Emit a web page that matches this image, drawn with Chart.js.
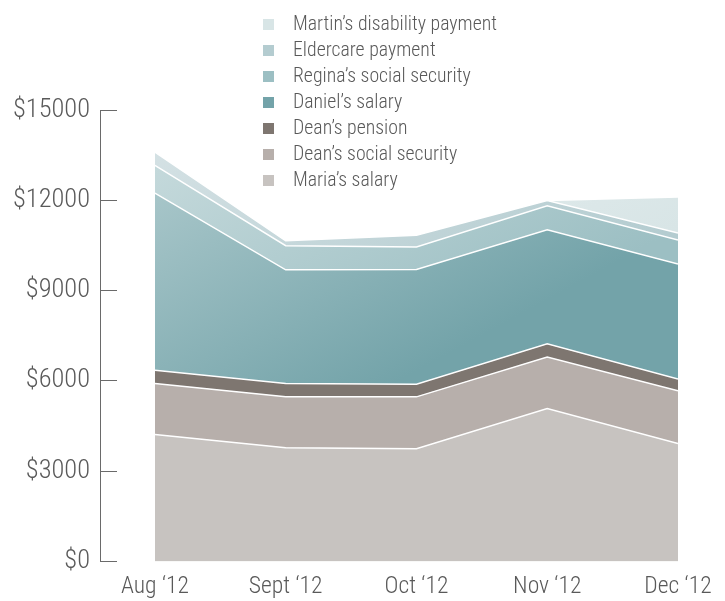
<!DOCTYPE html>
<html>
<head>
<meta charset="utf-8">
<script src="https://cdn.jsdelivr.net/npm/chart.js@4/dist/chart.umd.min.js"></script>
<style>
    body { margin: 0; background: #fff; }
    #wrap { position: relative; width: 725px; height: 601px; }
    #legend { position: absolute; left: 263px; top: 9.5px; margin: 0; padding: 0; list-style: none;
              font-size: 21px; color: #595959; }
    #legend li { height: 26px; line-height: 26px; white-space: nowrap; }
    #legend span.box { display: inline-block; width: 11px; height: 11px; margin-right: 19px; vertical-align: 0px; }
    #legend span.txt { display: inline-block; transform-origin: 0 50%; }
</style>
</head>
<body>
<div id="wrap">
    <canvas id="chart" width="725" height="601"></canvas>
    <ul id="legend"></ul>
</div>
<script>
const months = ["Aug \u201812", "Sept \u201812", "Oct \u201812", "Nov \u201812", "Dec \u201812"];
const yTicks = [0, 3000, 6000, 9000, 12000, 15000];

// bottom of the stack first
const mariaSalary = [4220, 3780, 3750, 5080, 3920];
const deanSocialSecurity = [1690, 1690, 1720, 1710, 1750];
const deanPension = [440, 440, 420, 440, 390];
const danielSalary = [5890, 3780, 3810, 3790, 3820];
const reginaSocialSecurity = [920, 800, 750, 800, 800];
const eldercarePayment = [440, 170, 390, 170, 230];
const martinDisability = [0, 0, 0, 0, 1200];

const TEXT = '#595959';
const AXIS = '#6a6a6a';

// --- pick a narrow face if the machine has one ---
const probe = document.createElement('canvas').getContext('2d');
function textWidth(font, text) { probe.font = font; return probe.measureText(text).width; }
function hasFamily(fam) {
    const t = 'mmmmWWWiiil 0123456789';
    return textWidth(`40px ${fam}, monospace`, t) !== textWidth('40px monospace', t) &&
           textWidth(`40px ${fam}, serif`, t) !== textWidth('40px serif', t);
}
const SAMPLE = "Martin\u2019s disability payment";
const baseWidth = textWidth("40px 'Liberation Sans'", SAMPLE);
const candidates = [
    { family: "'Roboto Condensed'", stretch: '' },
    { family: "'Liberation Sans Narrow'", stretch: '' },
    { family: "'Arial Narrow'", stretch: '' },
    { family: "'Noto Sans Condensed'", stretch: '' },
    { family: "'DejaVu Sans Condensed'", stretch: '' },
    { family: "Roboto", stretch: 'condensed' },
    { family: "'Open Sans'", stretch: 'condensed' },
    { family: "'DejaVu Sans'", stretch: 'condensed' },
];
let face = { family: "'Liberation Sans'", stretch: '' };
for (const c of candidates) {
    if (!hasFamily(c.family)) continue;
    const w = textWidth(`${c.stretch} 40px ${c.family}`, SAMPLE);
    if (w < baseWidth * 0.92) { face = c; break; }
}
const FONT = face.family + ', sans-serif';
const fontStr = size => `${face.stretch} 300 ${size}px ${FONT}`;

// size the tick labels to the widths in the picture
const ySize = Math.min(28, 28 * 77 / textWidth(fontStr(28), '$15000'));
const xSize = Math.min(24, 24 * 68 / textWidth(fontStr(24), months[0]));
const legendScale = Math.min(1, 204 / textWidth(fontStr(21), SAMPLE));

function hexToRgb(hex) {
    const n = parseInt(hex.slice(1), 16);
    return [(n >> 16) & 255, (n >> 8) & 255, n & 255];
}

function lighten(hex, t) {
    const c = hexToRgb(hex).map(v => Math.round(v + (255 - v) * t));
    return `rgb(${c[0]},${c[1]},${c[2]})`;
}

// the blue layers fade lighter toward the upper left
function fade(hex) {
    return (ctx) => {
        const area = ctx.chart.chartArea;
        if (!area) return hex;
        const w = area.right - area.left, h = area.bottom - area.top;
        const g = ctx.chart.ctx.createLinearGradient(
            area.left + 0.068 * w, area.top + 0.09 * h,
            area.left + 0.34 * w, area.top + 0.71 * h);
        g.addColorStop(0, lighten(hex, 0.42));
        g.addColorStop(1, hex);
        return g;
    };
}

const series = [
    { label: "Maria\u2019s salary", values: mariaSalary, color: '#c7c3c0' },
    { label: "Dean\u2019s social security", values: deanSocialSecurity, color: '#b7afab' },
    { label: "Dean\u2019s pension", values: deanPension, color: '#7e7670' },
    { label: "Daniel\u2019s salary", values: danielSalary, color: '#73a3a9', fade: true },
    { label: "Regina\u2019s social security", values: reginaSocialSecurity, color: '#9cbfc3', fade: true },
    { label: "Eldercare payment", values: eldercarePayment, color: '#b4ccd0', fade: true },
    { label: "Martin\u2019s disability payment", values: martinDisability, color: '#d8e5e6', fade: true },
];

const datasets = series.map((s, i) => ({
    label: s.label,
    data: s.values.map((v, j) => ({ x: j, y: v })),
    backgroundColor: s.fade ? fade(s.color) : s.color,
    legendColor: s.color,
    borderColor: '#ffffff',
    borderWidth: 1.5,
    pointRadius: 0,
    tension: 0,
    fill: i === 0 ? 'origin' : '-1',
}));

// y axis line sits at the outer end of the tick marks
const axisLine = {
    id: 'axisLine',
    afterDraw(chart) {
        const y = chart.scales.y;
        const x = Math.round(chart.chartArea.left - y.options.grid.tickLength) + 0.5;
        const c = chart.ctx;
        c.save();
        c.strokeStyle = AXIS;
        c.lineWidth = 1;
        c.beginPath();
        c.moveTo(x, y.getPixelForValue(yTicks[yTicks.length - 1]));
        c.lineTo(x, y.getPixelForValue(0));
        c.stroke();
        c.restore();
    }
};

const tickFont = size => ({ family: FONT, size: size, weight: 300, style: face.stretch || undefined });

const chart = new Chart(document.getElementById('chart'), {
    type: 'line',
    data: { datasets },
    plugins: [axisLine],
    options: {
        responsive: false,
        animation: false,
        layout: { padding: { top: 110, right: 47, bottom: 0, left: 0 } },
        plugins: { legend: { display: false }, tooltip: { enabled: false } },
        scales: {
            x: {
                type: 'linear',
                min: -0.29,
                max: months.length - 1,
                afterBuildTicks: s => { s.ticks = months.map((m, i) => ({ value: i })); },
                afterFit: s => { s.height = 39.5; },
                grid: { display: false, drawTicks: false },
                border: { display: false },
                ticks: {
                    padding: 11,
                    color: TEXT,
                    font: tickFont(xSize),
                    maxRotation: 0,
                    autoSkip: false,
                    callback: v => months[v],
                },
            },
            y: {
                stacked: true,
                min: 0,
                max: yTicks[yTicks.length - 1],
                afterBuildTicks: s => { s.ticks = yTicks.map(v => ({ value: v })); },
                afterFit: s => { s.width = 117; },
                grid: { drawOnChartArea: false, drawTicks: true, tickLength: 17, color: AXIS, lineWidth: 1 },
                border: { display: false },
                ticks: {
                    padding: 10,
                    color: TEXT,
                    font: tickFont(ySize),
                    callback: v => '$' + v,
                },
            },
        },
    },
});

// legend, top of the stack first
const legend = document.getElementById('legend');
legend.style.fontFamily = FONT;
legend.style.fontWeight = 300;
if (face.stretch) legend.style.fontStretch = face.stretch;
chart.data.datasets.slice().reverse().forEach(ds => {
    const li = document.createElement('li');
    const box = document.createElement('span');
    box.className = 'box';
    box.style.background = ds.legendColor;
    const txt = document.createElement('span');
    txt.className = 'txt';
    txt.style.transform = `scaleX(${legendScale})`;
    txt.textContent = ds.label;
    li.appendChild(box);
    li.appendChild(txt);
    legend.appendChild(li);
});
</script>
</body>
</html>
